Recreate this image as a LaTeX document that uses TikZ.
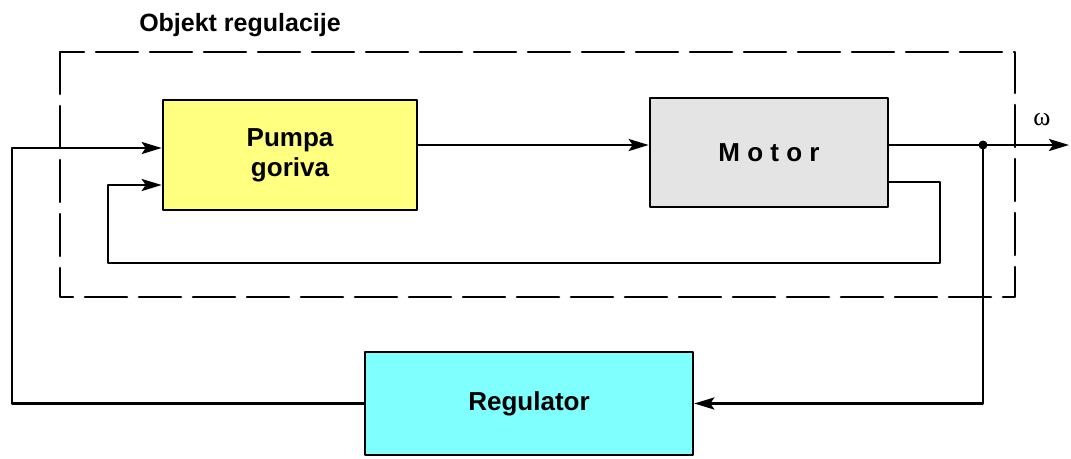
\documentclass[tikz,border=0pt]{standalone}
\usepackage{fontspec}
\setmainfont{Liberation Sans}
\newfontfamily\omegafont{Liberation Serif}
\usetikzlibrary{arrows.meta}
\definecolor{pumpyellow}{RGB}{255,255,128}
\definecolor{motorgray}{RGB}{228,228,228}
\definecolor{regcyan}{RGB}{128,255,255}
\tikzset{
  blok/.style={draw, line width=2.6pt, inner sep=0pt,
    font=\fontsize{26}{30}\selectfont\bfseries, align=center},
  veza/.style={line width=2.6pt},
}
\begin{document}
\begin{tikzpicture}[x=1pt, y=-1pt, line join=round, line cap=round,
  >={Stealth[length=20pt, width=12pt, inset=4pt]}]
\useasboundingbox (0,0) rectangle (1071,458);
% object boundary
\draw[line width=2.6pt, dash pattern=on 42pt off 12pt] (60,52) rectangle (1015,297);
\node[font=\fontsize{25}{28}\selectfont\bfseries] (titel) at (240,25) {Objekt regulacije};
% blocks
\node[blok, fill=pumpyellow, minimum width=254pt, minimum height=110pt] (pumpa) at (290,155) {Pumpa\\goriva};
\node[blok, fill=motorgray, minimum width=238pt, minimum height=109pt] (motor) at (769,152.5) {M o t o r};
\node[blok, fill=regcyan, minimum width=328pt, minimum height=103pt] (reg) at (529,403.5) {Regulator};
% connections
\coordinate (split) at (983,145);
\coordinate (izlaz) at (1069,145);
\draw[veza, ->] ([yshift=10pt]pumpa.east) -- ([yshift=7.5pt]motor.west);
\draw[veza, ->] ([yshift=7.5pt]motor.east) -- (izlaz);
\draw[veza, ->] ([yshift=-29.5pt]motor.east) -| (940,263) -| (108,185) -- ([yshift=-30pt]pumpa.west);
\draw[veza, ->] (split) |- (reg.east);
\draw[veza, ->] (reg.west) -| (12,148) -- ([yshift=7pt]pumpa.west);
\fill (split) circle (4.5pt);
\node[font=\fontsize{26}{28}\omegafont] (omega) at (1042,120) {ω};
\end{tikzpicture}
\end{document}
